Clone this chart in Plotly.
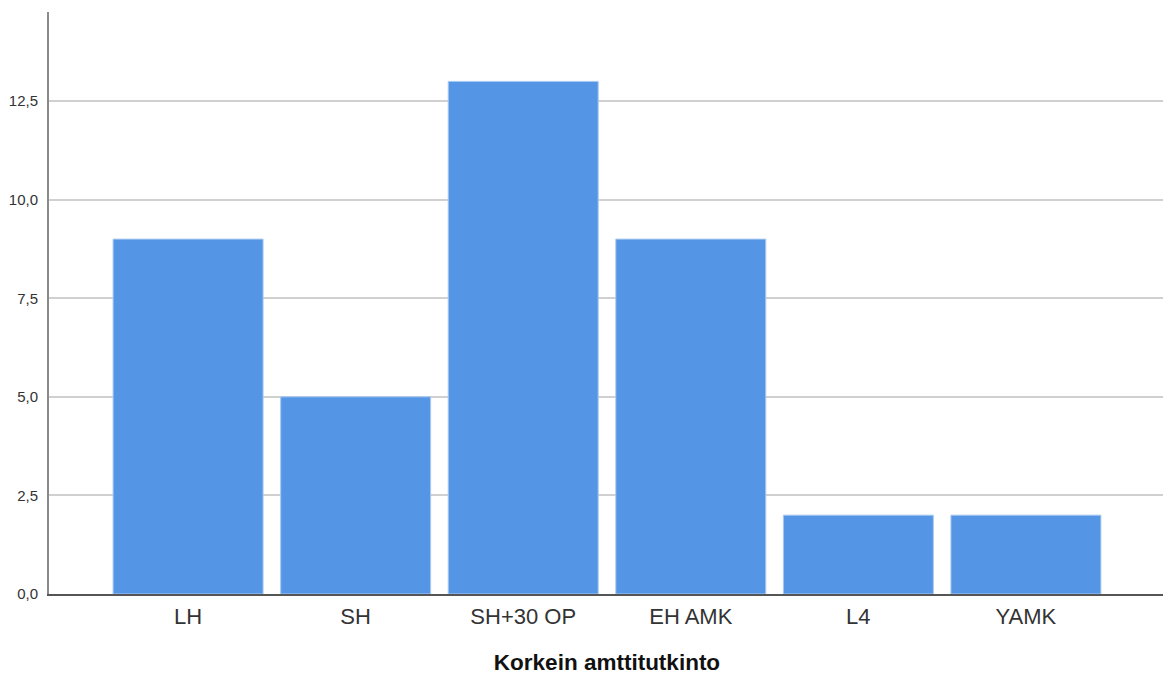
import plotly.graph_objects as go

categories = ["LH", "SH", "SH+30 OP", "EH AMK", "L4", "YAMK"]
values = [9, 5, 13, 9, 2, 2]
y_ticks = [0, 2.5, 5, 7.5, 10, 12.5]
x_title = "Korkein amttitutkinto"

fig = go.Figure(go.Bar(
    x=categories, y=values,
    marker=dict(color="#5595e5", line=dict(color="#a9c9f0", width=1)),
))

fig.update_layout(
    width=1163, height=667,
    margin=dict(l=41, r=6, t=4, b=81),
    plot_bgcolor="white", paper_bgcolor="white",
    separators=",.",
    bargap=0.105,
    showlegend=False,
    font=dict(family="Liberation Sans, Arial", color="#222"),
)
fig.update_xaxes(
    range=[-0.83, 5.83], automargin=False,
    showline=True, linecolor="#555", linewidth=1.5,
    showgrid=False, ticks="", ticklabelstandoff=2,
    tickfont=dict(size=22, color="#333"),
    title=dict(text=x_title, font=dict(size=22.5, color="#111", weight="bold"), standoff=26),
)
fig.update_yaxes(
    range=[0, 14.76], automargin=False,
    tickvals=y_ticks, tickformat=".1f",
    showline=True, linecolor="#8a8a8a", linewidth=2,
    showgrid=True, gridcolor="#d0d0d0", gridwidth=1.5,
    zeroline=False, ticks="", ticklabelstandoff=6,
    tickfont=dict(size=15, color="#333"),
)

fig.write_html("out.html")
